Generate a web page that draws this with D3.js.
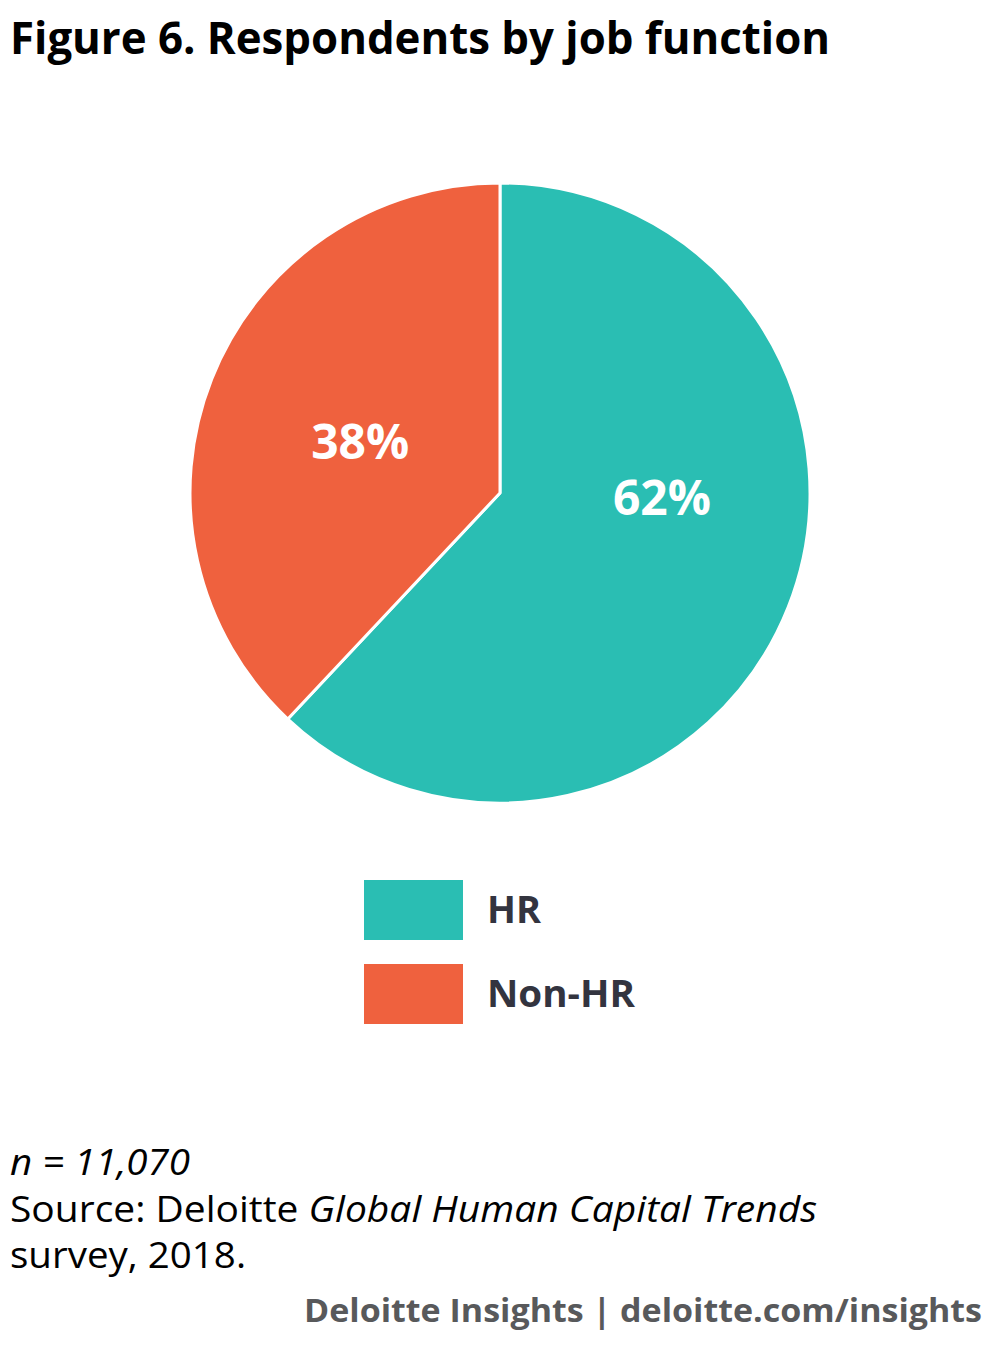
<!DOCTYPE html>
<html><head><meta charset="utf-8">
<script src="https://cdn.jsdelivr.net/npm/d3@7"></script>
<style>
html,body{margin:0;padding:0;background:#fff;}
svg{display:block;font-family:"Open Sans",sans-serif;}
</style></head>
<body>
<svg id="chart" width="1000" height="1346"></svg>
<script>
const categories = ["HR", "Non-HR"];
const values = [62, 38];
const labels = ["62%", "38%"];
const colors = ["#2abeb3", "#ef613e"];
// label anchor: angle (deg, clockwise from top) and radius from centre
const labelAngles = [91.6, 290.2];
const labelRadii = [162, 149];

const svg = d3.select("#chart");

function fitText(sel, w) {
  sel.attr("textLength", w).attr("lengthAdjust", "spacingAndGlyphs");
}

svg.append("text").attr("x", 10).attr("y", 54)
  .attr("font-size", 44).attr("font-weight", 700).attr("fill", "#000")
  .text("Figure 6. Respondents by job function").call(fitText, 820);

const cx = 500, cy = 493, r = 310;
const pie = d3.pie().sort(null).value(d => d)(values);
const arc = d3.arc().innerRadius(0).outerRadius(r);
const g = svg.append("g").attr("transform", `translate(${cx},${cy})`);
g.selectAll("path").data(pie).join("path")
  .attr("d", arc).attr("fill", (d, i) => colors[i])
  .attr("stroke", "#fff").attr("stroke-width", 3).attr("stroke-linejoin", "round");

g.selectAll("text.lbl").data(pie).join("text").attr("class", "lbl")
  .attr("x", (d, i) => labelRadii[i] * Math.sin(labelAngles[i] * Math.PI / 180))
  .attr("y", (d, i) => -labelRadii[i] * Math.cos(labelAngles[i] * Math.PI / 180))
  .attr("dy", "0.357em").attr("text-anchor", "middle")
  .attr("font-size", 48).attr("font-weight", 700).attr("fill", "#fff")
  .text((d, i) => labels[i]).call(fitText, 98);

const leg = svg.append("g");
categories.forEach((c, i) => {
  const y0 = 880 + i * 84;
  leg.append("rect").attr("x", 364).attr("y", y0).attr("width", 99).attr("height", 60).attr("fill", colors[i]);
  leg.append("text").attr("x", 487).attr("y", y0 + 30).attr("dy", "0.357em")
    .attr("font-size", 37).attr("font-weight", 700).attr("fill", "#33343f").text(c)
    .call(fitText, i === 0 ? 54 : 148);
});

svg.append("text").attr("x", 10).attr("y", 1175).attr("font-size", 36)
  .attr("font-style", "italic").attr("fill", "#000").text("n = 11,070").call(fitText, 180);
const src = svg.append("text").attr("x", 10).attr("y", 1222).attr("font-size", 36).attr("fill", "#000");
src.append("tspan").text("Source: Deloitte ");
src.append("tspan").attr("font-style", "italic").text("Global Human Capital Trends");
src.call(fitText, 807);
svg.append("text").attr("x", 10).attr("y", 1268).attr("font-size", 36).attr("fill", "#000")
  .text("survey, 2018.").call(fitText, 236);

svg.append("text").attr("x", 982).attr("y", 1322).attr("text-anchor", "end")
  .attr("font-size", 32).attr("font-weight", 700).attr("fill", "#58595b")
  .text("Deloitte Insights | deloitte.com/insights").call(fitText, 678);
</script>
</body></html>
